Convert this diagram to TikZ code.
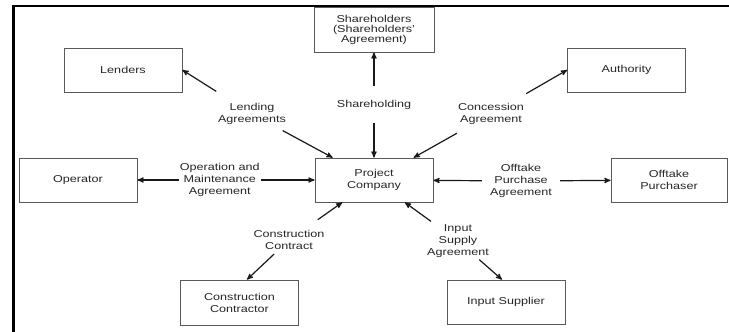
\documentclass[tikz,border=0pt]{standalone}
\usepackage{fontspec}
\setmainfont{Liberation Sans}[FakeStretch=1.26]
\usetikzlibrary{arrows, positioning}
\tikzset{
    >=stealth',
    every node/.style={font=\fontsize{10}{12}\selectfont, align=center, text=black!85},
    party/.style={draw=black!65, line width=0.8pt, minimum width=118pt, minimum height=44pt},
    deal/.style={inner sep=0pt},
    link/.style={->, line width=1.2pt, black!90}
}

\begin{document}
\begin{tikzpicture}[x=1pt, y=-1pt]
    \useasboundingbox (0,0) rectangle (729,332);
    \draw[line width=2.2pt] (13.5,332) -- (13.5,6) -- (729,6);

    % parties
    \node[party] (pc) at (374,180) {Project\\Company};
    \node[party, minimum width=120pt, minimum height=45pt, font=\fontsize{10}{10}\selectfont] (sh) at (374,29.5) {Shareholders\\(Shareholders'\\Agreement)};
    \node[party] (lenders) at (123,70) {Lenders};
    \node[party] (authority) at (626.5,70) {Authority};
    \node[party] (operator) at (78,180) {Operator};
    \node[party, minimum width=116pt] (offtaker) at (669,180) {Offtake\\Purchaser};
    \node[party, minimum height=45pt] (builder) at (239.5,302.5) {Construction\\Contractor};
    \node[party] (supplier) at (506,302) {Input Supplier};

    % agreements
    \node[deal] (lendl) at (252,114) {Lending\\Agreements};
    \node[deal] (shl) at (374,105) {Shareholding};
    \node[deal] (concl) at (491,114) {Concession\\Agreement};
    \node[deal] (offl) at (521,181) {Offtake\\Purchase\\Agreement};
    \node[deal] (ccl) at (289,240) {Construction\\Contract};
    \node[deal] (isl) at (458,241) {Input\\Supply\\Agreement};

    \draw[link, shorten <=22pt] (lendl) -- (lenders.east);
    \draw[link, shorten <=12pt] (lendl) -- (pc);
    \draw[link, shorten <=14pt] (shl) -- (sh.south);
    \draw[link, shorten <=13pt] (shl) -- (pc.north);
    \draw[link, shorten <=19pt] (concl) -- (authority.west);
    \draw[link, shorten <=17pt] (concl) -- (pc);
    \draw[link, <->] (operator) -- node[fill=white, inner sep=1pt, pos=0.465] {Operation and\\Maintenance\\Agreement} (pc);
    \draw[link, shorten <=8pt] (offl) -- (pc);
    \draw[link, shorten <=8pt] (offl) -- (offtaker);
    \draw[link, shorten <=18pt] (ccl) -- (pc);
    \draw[link, shorten <=6pt] (ccl) -- ([xshift=7.5pt]builder.north);
    \draw[link, shorten <=5pt] (isl) -- (pc);
    \draw[link, shorten <=3pt] (isl) -- ([xshift=-4pt]supplier.north);
\end{tikzpicture}
\end{document}
